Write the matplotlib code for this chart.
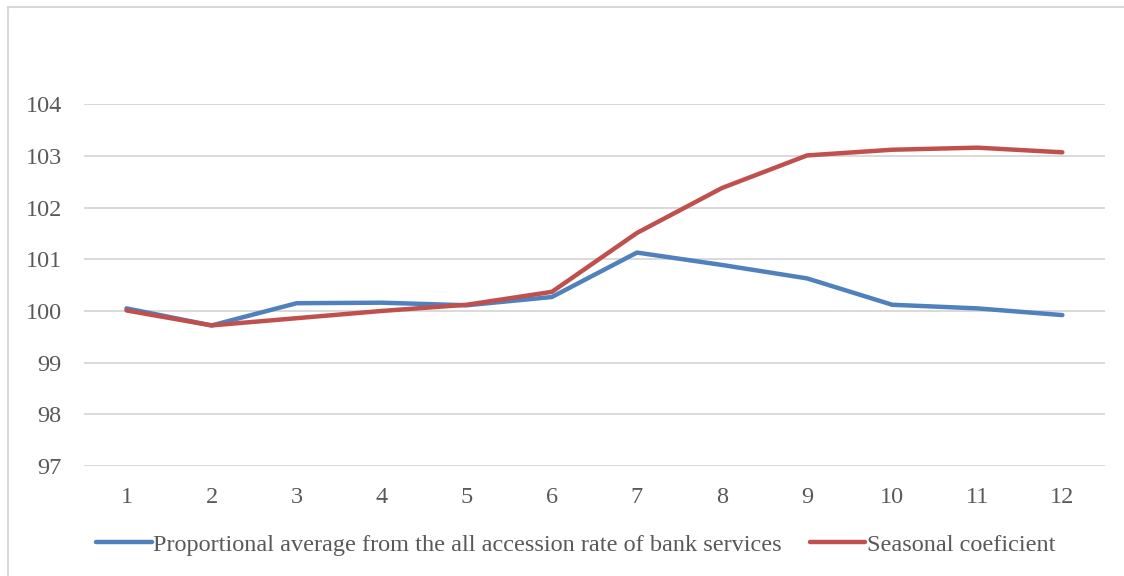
import matplotlib
matplotlib.use('Agg')
import matplotlib.pyplot as plt
from matplotlib.patches import Rectangle

plt.rcParams['font.family'] = ['Liberation Serif', 'DejaVu Serif']

# 월별 지수 (1~12)
months = list(range(1, 13))
accession_avg = [100.05, 99.72, 100.15, 100.16, 100.11, 100.27,
                 101.13, 100.89, 100.63, 100.12, 100.05, 99.92]
seasonal_coef = [100.01, 99.72, 99.86, 100.00, 100.12, 100.37,
                 101.51, 102.38, 103.01, 103.12, 103.16, 103.07]
y_ticks = [97, 98, 99, 100, 101, 102, 103, 104]

BLUE = '#4F81BD'
RED = '#C0504D'
GREY_TXT = '#595959'
FS = 17.5

fig = plt.figure(figsize=(11.24, 5.76), dpi=100)
ax = fig.add_axes([0.0747, 0.191, 0.9083, 0.628])

ax.plot(months, accession_avg, color=BLUE, lw=3.2, solid_capstyle='round',
        label='Proportional average from the all accession rate of bank services')
ax.plot(months, seasonal_coef, color=RED, lw=3.2, solid_capstyle='round',
        label='Seasonal coeficient')

ax.set_xlim(0.5, 12.5)
ax.set_ylim(97, 104)
ax.set_yticks(y_ticks)
ax.set_xticks(months)
ax.grid(axis='y', color='#D9D9D9', lw=1.4)
ax.set_axisbelow(True)
for s in ax.spines.values():
    s.set_visible(False)
ax.tick_params(length=0, labelsize=FS, labelcolor=GREY_TXT)
ax.tick_params(axis='x', pad=15)
ax.tick_params(axis='y', pad=16)

fig.legend(loc='center', bbox_to_anchor=(0.512, 0.054), ncol=2, frameon=False,
           fontsize=FS, labelcolor=GREY_TXT, handlelength=2.3,
           handletextpad=0.05, columnspacing=1.15)

# 차트 외곽 테두리
fig.patches.append(Rectangle((8 / 1124, -0.01), 1.02, (576 - 7) / 576 + 0.01,
                             transform=fig.transFigure, fill=False,
                             edgecolor='#D9D9D9', lw=1.5))

fig.savefig('out.png', dpi=100)
